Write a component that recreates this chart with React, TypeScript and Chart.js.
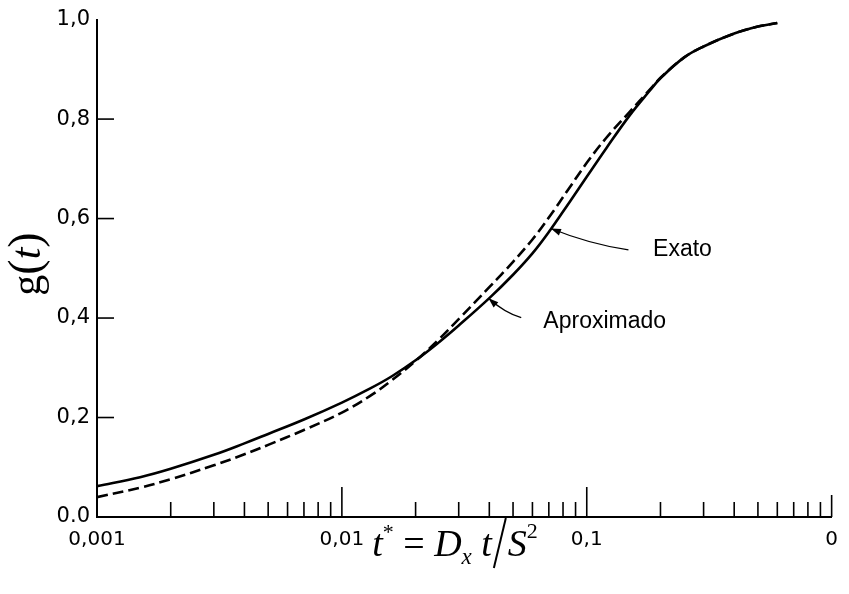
import React, { useEffect, useRef } from "react";
import { Chart, registerables } from "chart.js";

Chart.register(...registerables);

// ---- data ----
const tValues = [0.001, 0.0015, 0.002, 0.003, 0.004, 0.005, 0.007, 0.01, 0.013, 0.016, 0.02, 0.025, 0.03, 0.04, 0.05, 0.06, 0.07, 0.085, 0.1, 0.12, 0.15, 0.18, 0.2, 0.25, 0.3, 0.4, 0.5, 0.6];
const exato = [0.062, 0.08, 0.097, 0.125, 0.148, 0.167, 0.196, 0.23, 0.258, 0.283, 0.315, 0.352, 0.385, 0.44, 0.487, 0.53, 0.573, 0.633, 0.684, 0.741, 0.808, 0.856, 0.882, 0.924, 0.946, 0.972, 0.986, 0.993];
const aproximado = [0.04, 0.059, 0.076, 0.104, 0.126, 0.145, 0.175, 0.21, 0.243, 0.275, 0.314, 0.358, 0.398, 0.462, 0.513, 0.558, 0.602, 0.662, 0.712, 0.762, 0.815, 0.858, 0.883, 0.924, 0.946, 0.972, 0.986, 0.993];

const xMajorTicks = [0.001, 0.01, 0.1, 1];
const xMajorLabels = ["0,001", "0,01", "0,1", "0"];
const yTickValues = [0, 0.2, 0.4, 0.6, 0.8, 1.0];
const yTickLabels = ["0.0", "0,2", "0,4", "0,6", "0,8", "1,0"];

const annotationTexts = ["Exato", "Aproximado"];
const annotationTips = [[0.0714, 0.58], [0.0397, 0.44]];
const annotationTails = [[0.148, 0.537], [0.054, 0.401]];
const annotationLabelPos = [[0.1866, 0.525], [0.0665, 0.379]];

const decadeStarts = [0.001, 0.01, 0.1];
const minorMultipliers = [2, 3, 4, 5, 6, 7, 8, 9];

function xLabelFor(v: number): string {
  for (let i = 0; i < xMajorTicks.length; i++) {
    if (Math.abs(Math.log10(v) - Math.log10(xMajorTicks[i])) < 1e-6) return xMajorLabels[i];
  }
  return "";
}
function yLabelFor(v: number): string {
  for (let i = 0; i < yTickValues.length; i++) {
    if (Math.abs(v - yTickValues[i]) < 1e-6) return yTickLabels[i];
  }
  return "";
}

const decorPlugin = {
  id: "decor",
  afterDatasetsDraw(chart: any) {
    const ctx = chart.ctx as CanvasRenderingContext2D;
    const xs = chart.scales.x;
    const ys = chart.scales.y;
    const area = chart.chartArea;
    ctx.save();
    ctx.strokeStyle = "#000";
    ctx.fillStyle = "#000";
    // inward y ticks
    ctx.lineWidth = 1.6;
    [0.2, 0.4, 0.6, 0.8].forEach((v) => {
      const py = ys.getPixelForValue(v);
      ctx.beginPath();
      ctx.moveTo(area.left, py);
      ctx.lineTo(area.left + 17, py);
      ctx.stroke();
    });
    // upward x ticks
    decadeStarts.forEach((d) => {
      minorMultipliers.forEach((m) => {
        const px = xs.getPixelForValue(d * m);
        ctx.beginPath();
        ctx.moveTo(px, area.bottom);
        ctx.lineTo(px, area.bottom - 15);
        ctx.stroke();
      });
    });
    [0.01, 0.1].forEach((v) => {
      const px = xs.getPixelForValue(v);
      ctx.beginPath();
      ctx.moveTo(px, area.bottom);
      ctx.lineTo(px, area.bottom - 30);
      ctx.stroke();
    });
    {
      const px = xs.getPixelForValue(1);
      ctx.beginPath();
      ctx.moveTo(px, area.bottom);
      ctx.lineTo(px, area.bottom - 22);
      ctx.stroke();
    }

    // annotations
    for (let i = 0; i < annotationTexts.length; i++) {
      const tx = xs.getPixelForValue(annotationTips[i][0]);
      const ty = ys.getPixelForValue(annotationTips[i][1]);
      const lx = xs.getPixelForValue(annotationTails[i][0]);
      const ly = ys.getPixelForValue(annotationTails[i][1]);
      const mx = (tx + lx) / 2;
      const my = (ty + ly) / 2 + 5;
      ctx.lineWidth = 1.3;
      ctx.beginPath();
      ctx.moveTo(lx, ly);
      ctx.quadraticCurveTo(mx, my, tx, ty);
      ctx.stroke();
      const ang = Math.atan2(ty - my, tx - mx);
      const len = 10;
      const w = 3.5;
      ctx.beginPath();
      ctx.moveTo(tx, ty);
      ctx.lineTo(tx - len * Math.cos(ang) + w * Math.sin(ang), ty - len * Math.sin(ang) - w * Math.cos(ang));
      ctx.lineTo(tx - len * Math.cos(ang) - w * Math.sin(ang), ty - len * Math.sin(ang) + w * Math.cos(ang));
      ctx.closePath();
      ctx.fill();
      ctx.font = "23px 'Liberation Sans', Arial, sans-serif";
      ctx.textAlign = "left";
      ctx.textBaseline = "alphabetic";
      ctx.fillText(
        annotationTexts[i],
        xs.getPixelForValue(annotationLabelPos[i][0]),
        ys.getPixelForValue(annotationLabelPos[i][1])
      );
    }
    ctx.restore();
  },
  afterDraw(chart: any) {
    const ctx = chart.ctx as CanvasRenderingContext2D;
    ctx.save();
    ctx.fillStyle = "#000";
    ctx.strokeStyle = "#000";
    ctx.textBaseline = "alphabetic";
    ctx.textAlign = "left";
    const serif = "'Liberation Serif', 'Times New Roman', serif";
    const big = 38;
    const fI = `italic ${big}px ${serif}`;
    const fR = `${big}px ${serif}`;
    const fSupR = `22px ${serif}`;
    const fSubI = `italic 23px ${serif}`;
    const base = 556;
    type Piece = { text: string; font: string; dy: number; slash?: boolean; w?: number };
    const pieces: Piece[] = [
      { text: "t", font: fI, dy: 0 },
      { text: "*", font: fSupR, dy: -17 },
      { text: " = ", font: fR, dy: 0 },
      { text: "D", font: fI, dy: 0 },
      { text: "x", font: fSubI, dy: 8 },
      { text: " t", font: fI, dy: 0 },
      { text: "", font: fR, dy: 0, slash: true, w: 16 },
      { text: "S", font: fI, dy: 0 },
      { text: "2", font: fSupR, dy: -18 },
    ];
    let total = 0;
    pieces.forEach((p) => {
      if (p.slash) { total += p.w || 0; return; }
      ctx.font = p.font;
      total += ctx.measureText(p.text).width;
    });
    let x = 455 - total / 2;
    pieces.forEach((p) => {
      if (p.slash) {
        ctx.lineWidth = 2;
        ctx.beginPath();
        ctx.moveTo(x + 2, base + 12);
        ctx.lineTo(x + 14, base - 38);
        ctx.stroke();
        x += p.w || 0;
        return;
      }
      ctx.font = p.font;
      ctx.fillText(p.text, x, base + p.dy);
      x += ctx.measureText(p.text).width;
    });

    // y title: g(t), rotated
    ctx.translate(40, 264);
    ctx.rotate(-Math.PI / 2);
    const yPieces: Piece[] = [
      { text: "g", font: `42px ${serif}`, dy: 0 },
      { text: "(", font: `46px ${serif}`, dy: 0 },
      { text: "t", font: `italic 42px ${serif}`, dy: 0 },
      { text: ")", font: `46px ${serif}`, dy: 0 },
    ];
    let tw = 0;
    yPieces.forEach((p) => { ctx.font = p.font; tw += ctx.measureText(p.text).width; });
    let yx = -tw / 2;
    yPieces.forEach((p) => {
      ctx.font = p.font;
      ctx.fillText(p.text, yx, 0);
      yx += ctx.measureText(p.text).width;
    });
    ctx.restore();
  },
};

export default function App() {
  const canvasRef = useRef<HTMLCanvasElement | null>(null);

  useEffect(() => {
    document.body.style.margin = "0";
    const canvas = canvasRef.current;
    if (!canvas) return;
    const tickFont = { family: "'DejaVu Sans', sans-serif", size: 20 };
    const chart = new Chart(canvas, {
      type: "line",
      data: {
        datasets: [
          {
            label: "Exato",
            data: tValues.map((t, i) => ({ x: t, y: exato[i] })),
            borderColor: "#000",
            borderWidth: 2.6,
            pointRadius: 0,
            fill: false,
            tension: 0.4,
          },
          {
            label: "Aproximado",
            data: tValues.map((t, i) => ({ x: t, y: aproximado[i] })),
            borderColor: "#000",
            borderWidth: 2.6,
            borderDash: [11, 5],
            pointRadius: 0,
            fill: false,
            tension: 0.4,
          },
        ],
      },
      options: {
        animation: false,
        responsive: false,
        devicePixelRatio: 1,
        layout: { padding: { left: 0, right: 12, top: 18, bottom: 0 } },
        plugins: { legend: { display: false }, tooltip: { enabled: false } },
        scales: {
          x: {
            type: "logarithmic",
            min: 0.001,
            max: 1,
            afterFit: (s: any) => { s.height = 77; },
            grid: { display: false, drawTicks: false },
            border: { display: true, color: "#000", width: 2 },
            ticks: {
              autoSkip: false,
              maxRotation: 0,
              padding: 11,
              color: "#000",
              font: tickFont,
              callback: (v: any) => xLabelFor(Number(v)),
            },
          },
          y: {
            type: "linear",
            min: 0,
            max: 1,
            afterFit: (s: any) => { s.width = 97; },
            grid: { display: false, drawTicks: false },
            border: { display: true, color: "#000", width: 2 },
            ticks: {
              stepSize: 0.2,
              padding: 7,
              color: "#000",
              font: { family: "'DejaVu Sans', sans-serif", size: 21 },
              callback: (v: any) => yLabelFor(Number(v)),
            },
          },
        },
      },
      plugins: [decorPlugin],
    } as any);
    return () => chart.destroy();
  }, []);

  return (
    <div style={{ width: 849, height: 594 }}>
      <canvas ref={canvasRef} width={849} height={594} style={{ display: "block" }} />
    </div>
  );
}
